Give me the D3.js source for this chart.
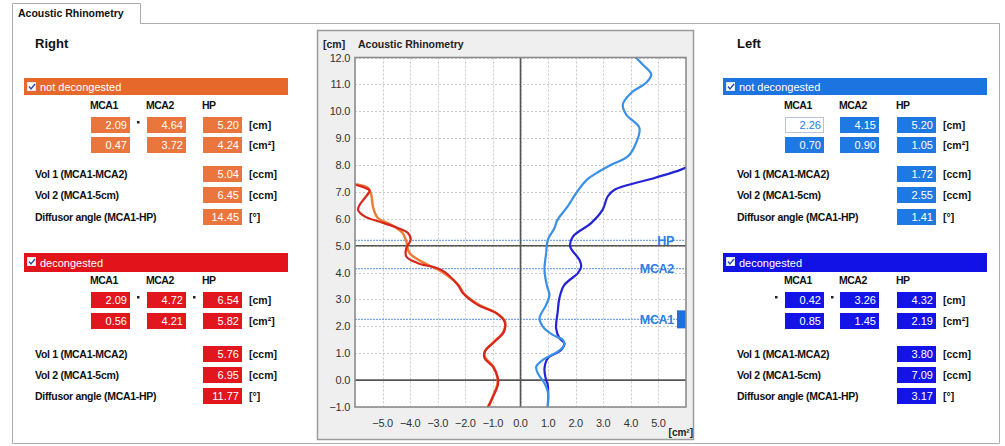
<!DOCTYPE html>
<html>
<head>
<meta charset="utf-8">
<script src="https://cdn.jsdelivr.net/npm/d3@7"></script>
<style>
  html, body { margin: 0; padding: 0; background: #fff; }
  svg { display: block; font-family: "Liberation Sans", Arial, sans-serif; }
</style>
</head>
<body>
<svg id="chart" width="1005" height="446"></svg>
<script>
// ---- data ----
const colHeads = ['MCA1', 'MCA2', 'HP'];
const volLabels = ['Vol 1 (MCA1-MCA2)', 'Vol 2 (MCA1-5cm)', 'Diffusor angle (MCA1-HP)'];
const volUnits = ['[ccm]', '[ccm]', '[°]'];

// right nose
const rightNdDist = ['2.09', '4.64', '5.20'];
const rightNdArea = ['0.47', '3.72', '4.24'];
const rightNdVol = ['5.04', '6.45', '14.45'];
const rightDDist = ['2.09', '4.72', '6.54'];
const rightDArea = ['0.56', '4.21', '5.82'];
const rightDVol = ['5.76', '6.95', '11.77'];
// left nose
const leftNdDist = ['2.26', '4.15', '5.20'];
const leftNdArea = ['0.70', '0.90', '1.05'];
const leftNdVol = ['1.72', '2.55', '1.41'];
const leftDDist = ['0.42', '3.26', '4.32'];
const leftDArea = ['0.85', '1.45', '2.19'];
const leftDVol = ['3.80', '7.09', '3.17'];

// curves: [area cm², distance cm]; right side is drawn mirrored (negative)
const rightNotDecongested = [
  [-1.15, -1.0], [-1.0, -0.6], [-0.84, -0.15], [-0.84, 0.1], [-0.98, 0.5], [-1.28, 0.85],
  [-1.28, 1.08], [-0.96, 1.43], [-0.62, 1.8], [-0.56, 2.18], [-0.86, 2.49], [-1.5, 2.8],
  [-2.05, 3.22], [-2.25, 3.54], [-2.87, 4.04], [-3.36, 4.29], [-4.02, 4.72], [-4.14, 5.16],
  [-4.28, 5.48], [-4.69, 5.78], [-5.18, 6.04], [-5.35, 6.46], [-5.41, 6.9], [-5.53, 7.15],
  [-6.1, 7.3]
];
const rightDecongested = [
  [-1.18, -0.99], [-1.0, -0.62], [-0.82, -0.18], [-0.82, 0.07], [-1.0, 0.5], [-1.3, 0.81],
  [-1.3, 1.06], [-0.94, 1.43], [-0.6, 1.8], [-0.58, 2.18], [-0.88, 2.49], [-1.55, 2.8],
  [-2.09, 3.24], [-2.27, 3.54], [-2.87, 4.1], [-3.72, 4.35], [-4.14, 4.6], [-4.14, 4.91],
  [-3.98, 5.22], [-4.08, 5.47], [-4.45, 5.66], [-5.05, 5.87], [-5.65, 6.09], [-5.89, 6.34],
  [-5.83, 6.52], [-5.65, 6.77], [-5.47, 7.05], [-5.6, 7.14], [-6.1, 7.3]
];
const leftNotDecongested = [
  [0.99, -0.99], [0.99, -0.43], [0.87, -0.12], [0.63, 0.25], [0.57, 0.5], [0.81, 0.75],
  [1.35, 1.06], [1.59, 1.31], [1.53, 1.5], [1.17, 1.68], [0.81, 1.99], [0.69, 2.3],
  [0.93, 2.8], [1.05, 3.17], [0.96, 3.5], [0.87, 4.1], [0.93, 4.72], [0.99, 5.22],
  [1.23, 5.65], [1.34, 5.96], [1.71, 6.46], [2.02, 6.96], [2.4, 7.45], [2.75, 7.7],
  [3.29, 8.01], [3.89, 8.32], [4.19, 8.82], [4.31, 9.38], [3.83, 9.88], [3.71, 10.25],
  [4.01, 10.68], [4.55, 11.06], [4.74, 11.37], [4.43, 11.74], [4.13, 12.05]
];
const leftDecongested = [
  [0.99, -0.99], [0.99, -0.18], [0.93, 0.0], [0.87, 0.44], [0.99, 0.81], [1.47, 1.12],
  [1.59, 1.37], [1.41, 1.56], [1.29, 1.93], [1.35, 2.55], [1.41, 3.05], [1.59, 3.54],
  [2.08, 3.98], [2.2, 4.23], [2.14, 4.47], [1.8, 4.97], [1.9, 5.34], [2.56, 5.84],
  [2.98, 6.34], [3.16, 6.83], [3.41, 7.08], [4.86, 7.52], [5.82, 7.83], [6.3, 8.05]
];

const markerNames = ['MCA1', 'MCA2', 'HP'];
const markerDist = [2.26, 4.15, 5.20];
const xTicks = [-5, -4, -3, -2, -1, 0, 1, 2, 3, 4, 5];
const yTicks = [-1, 0, 1, 2, 3, 4, 5, 6, 7, 8, 9, 10, 11, 12];

// ---- drawing ----
const svg = d3.select('#chart');
const fmt = d3.format('.1f');

// tab + frame
svg.append('path')
  .attr('d', 'M12.5,443.5 V3.5 H140.5 V23.5 H999.5 V443.5 Z')
  .attr('fill', '#fff').attr('stroke', '#adadad');
svg.append('path').attr('d', 'M140.5,23.5 H999.5').attr('stroke', '#adadad');
svg.append('text').attr('x', 18).attr('y', 17)
  .attr('font-size', 10.5).attr('font-weight', 'bold').attr('fill', '#111')
  .text('Acoustic Rhinometry');

function drawSection(g, o) {
  // colored header bar with check box
  g.append('rect').attr('x', o.x0).attr('y', o.barY).attr('width', o.barW).attr('height', o.barH)
    .attr('fill', o.bar);
  g.append('rect').attr('x', o.x0 + 3.5).attr('y', o.barY + 4.5).attr('width', 8).attr('height', 8)
    .attr('fill', '#fff').attr('stroke', '#dfe6f2');
  g.append('path')
    .attr('d', `M${o.x0 + 5},${o.barY + 8.5} l2,2.5 l4,-5`)
    .attr('fill', 'none').attr('stroke', '#2a4aa8').attr('stroke-width', 1.4);
  g.append('text').attr('x', o.x0 + 16).attr('y', o.barY + o.barH / 2 + 4)
    .attr('font-size', 11).attr('fill', '#fff').text(o.title);

  colHeads.forEach((h, i) => {
    g.append('text').attr('x', o.colX[i] - 1).attr('y', o.headY)
      .attr('font-size', 10.5).attr('font-weight', 'bold').attr('fill', '#111')
      .attr('letter-spacing', -0.5).text(h);
  });

  const box = (x, y, v, w, white) => {
    g.append('rect').attr('x', x + 0.5).attr('y', y + 0.5).attr('width', w).attr('height', 15)
      .attr('fill', white ? '#fff' : o.box).attr('stroke', white ? '#b8c4d6' : o.box);
    g.append('text').attr('x', x + w - 2).attr('y', y + 12).attr('text-anchor', 'end')
      .attr('font-size', 11).attr('fill', white ? o.box : '#fff').text(v);
  };
  [o.dist, o.area].forEach((row, r) => {
    const y = o.rowY[r];
    row.forEach((v, i) => box(o.colX[i], y, v, 38, r === 0 && i === 0 && o.firstWhite));
    g.append('text').attr('x', o.unitX).attr('y', y + 12)
      .attr('font-size', 10.5).attr('font-weight', 'bold').attr('fill', '#111')
      .text(r === 0 ? '[cm]' : '[cm²]');
  });
  o.dots.forEach(dx => {
    g.append('rect').attr('x', dx).attr('y', o.rowY[0] + 4).attr('width', 2.5).attr('height', 2.5)
      .attr('fill', '#222');
  });
  o.vol.forEach((v, i) => {
    const y = o.volY[i];
    g.append('text').attr('x', o.labelX).attr('y', y + 12)
      .attr('font-size', 10.5).attr('font-weight', 'bold').attr('fill', '#111')
      .attr('letter-spacing', -0.3).text(volLabels[i]);
    box(o.colX[2], y, v, 38, false);
    g.append('text').attr('x', o.unitX).attr('y', y + 12)
      .attr('font-size', 10.5).attr('font-weight', 'bold').attr('fill', '#111')
      .text(volUnits[i]);
  });
}

function drawSide(name, x0, colX, labelX, unitX, nd, d) {
  const g = svg.append('g');
  g.append('text').attr('x', labelX).attr('y', 48)
    .attr('font-size', 13).attr('font-weight', 'bold').attr('fill', '#111').text(name);
  drawSection(g, Object.assign({
    x0, colX, labelX, unitX, barW: 264, barY: 78, barH: 17, headY: 109,
    rowY: [117, 137], volY: [166, 187, 209], title: 'not decongested'
  }, nd));
  drawSection(g, Object.assign({
    x0, colX, labelX, unitX, barW: 264, barY: 253, barH: 19, headY: 284,
    rowY: [292, 313], volY: [346, 367, 388], title: 'decongested'
  }, d));
}

drawSide('Right', 24, [91, 147, 203], 35, 249,
  { bar: '#e6692b', box: '#ea763d', dist: rightNdDist, area: rightNdArea, vol: rightNdVol, dots: [137] },
  { bar: '#e2131b', box: '#e2161e', dist: rightDDist, area: rightDArea, vol: rightDVol, dots: [137, 193] });
drawSide('Left', 723, [785, 840, 897], 737, 943,
  { bar: '#1b74e0', box: '#1f79e2', dist: leftNdDist, area: leftNdArea, vol: leftNdVol, dots: [], firstWhite: true },
  { bar: '#1212e6', box: '#1414e8', dist: leftDDist, area: leftDArea, vol: leftDVol, dots: [775, 831] });

// ---- chart panel ----
svg.append('rect').attr('x', 317.5).attr('y', 30.5).attr('width', 376).attr('height', 409)
  .attr('fill', '#efefef').attr('stroke', '#9c9c9c').attr('stroke-width', 1.5);

const x = d3.scaleLinear().domain([-6, 6]).range([355, 686]);
const y = d3.scaleLinear().domain([-1, 12]).range([407, 57.5]);

svg.append('rect').attr('x', x(-6)).attr('y', y(12)).attr('width', x(6) - x(-6)).attr('height', y(-1) - y(12))
  .attr('fill', '#fff');

svg.append('defs').append('clipPath').attr('id', 'plotclip').append('rect')
  .attr('x', x(-6)).attr('y', y(12)).attr('width', x(6) - x(-6)).attr('height', y(-1) - y(12));

// grid
const grid = svg.append('g').attr('stroke', '#c9c9c9').attr('stroke-dasharray', '2,2').attr('stroke-width', 1);
grid.selectAll('.gx').data(xTicks).join('line')
  .attr('x1', d => Math.round(x(d)) + 0.5).attr('x2', d => Math.round(x(d)) + 0.5)
  .attr('y1', y(12)).attr('y2', y(-1));
grid.selectAll('.gy').data(yTicks).join('line')
  .attr('y1', d => Math.round(y(d)) + 0.5).attr('y2', d => Math.round(y(d)) + 0.5)
  .attr('x1', x(-6)).attr('x2', x(6));

// markers (from the left, not decongested values)
const mk = svg.append('g');
markerDist.forEach((dv, i) => {
  mk.append('line').attr('x1', x(-6)).attr('x2', x(6)).attr('y1', y(dv)).attr('y2', y(dv))
    .attr('stroke', '#7aa6ec').attr('stroke-width', 1.3).attr('stroke-dasharray', '2,1');
});

// axis lines
const ax = svg.append('g').attr('stroke', '#555').attr('stroke-width', 1.6);
ax.append('line').attr('x1', x(0)).attr('x2', x(0)).attr('y1', y(12)).attr('y2', y(-1));
[0, 5].forEach(v => ax.append('line').attr('x1', x(-6)).attr('x2', x(6)).attr('y1', y(v)).attr('y2', y(v)));

// curves
const line = d3.line().x(d => x(d[0])).y(d => y(d[1])).curve(d3.curveCatmullRom.alpha(0.5));
const curves = svg.append('g').attr('clip-path', 'url(#plotclip)').attr('fill', 'none')
  .attr('stroke-linejoin', 'round').attr('stroke-linecap', 'round');
[[rightNotDecongested, '#ec7b33', 2.4], [rightDecongested, '#d8261c', 2.2],
 [leftDecongested, '#2424d6', 2.2], [leftNotDecongested, '#3a8fe6', 2.2]].forEach(([data, c, w]) => {
  curves.append('path').datum(data).attr('d', line).attr('stroke', c).attr('stroke-width', w);
});

// marker labels
markerNames.forEach((n, i) => {
  mk.append('text').attr('x', x(6) - 12).attr('y', y(markerDist[i]) + 4.5)
    .attr('text-anchor', 'end').attr('font-size', 12.5).attr('font-weight', 'bold')
    .attr('fill', '#2f7fe0').attr('letter-spacing', -0.3).text(n);
});
svg.append('rect').attr('x', x(6) - 9).attr('y', y(markerDist[0]) - 9).attr('width', 9).attr('height', 18)
  .attr('fill', '#1f6fdc');

// plot border
svg.append('rect').attr('x', x(-6)).attr('y', y(12)).attr('width', x(6) - x(-6)).attr('height', y(-1) - y(12))
  .attr('fill', 'none').attr('stroke', '#8c8c8c').attr('stroke-width', 1.6);

// tick labels
svg.append('g').selectAll('text').data(yTicks).join('text')
  .attr('x', x(-6) - 5).attr('y', d => y(d) + 4).attr('text-anchor', 'end')
  .attr('font-size', 11).attr('fill', '#333').attr('letter-spacing', -0.3).text(fmt);
svg.append('g').selectAll('text').data(xTicks).join('text')
  .attr('x', d => x(d)).attr('y', y(-1) + 20).attr('text-anchor', 'middle')
  .attr('font-size', 11).attr('fill', '#333').attr('letter-spacing', -0.3).text(fmt);

svg.append('text').attr('x', 323).attr('y', 48).attr('font-size', 10.5).attr('font-weight', 'bold')
  .attr('fill', '#222').text('[cm]');
svg.append('text').attr('x', 358).attr('y', 48).attr('font-size', 10.5).attr('font-weight', 'bold')
  .attr('fill', '#222').text('Acoustic Rhinometry');
svg.append('text').attr('x', 693).attr('y', 436).attr('text-anchor', 'end')
  .attr('font-size', 10).attr('font-weight', 'bold').attr('fill', '#222').text('[cm²]');
</script>
</body>
</html>
